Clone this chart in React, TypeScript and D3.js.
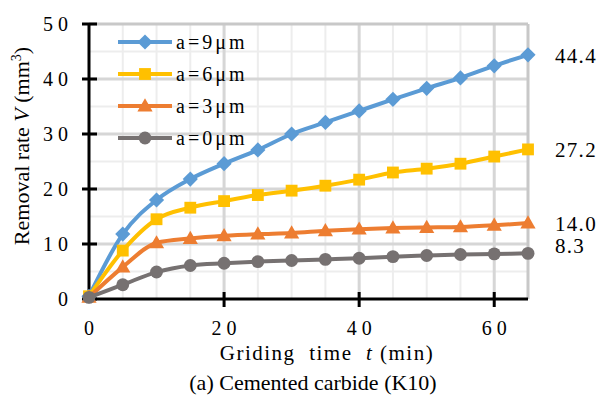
import React from "react";
import * as d3 from "d3";

const times = [0, 5, 10, 15, 20, 25, 30, 35, 40, 45, 50, 55, 60, 65];
const a9 = [0.5, 11.8, 18.0, 21.8, 24.6, 27.1, 30.0, 32.1, 34.2, 36.3, 38.3, 40.2, 42.4, 44.4];
const a6 = [0.5, 8.8, 14.5, 16.6, 17.8, 18.9, 19.7, 20.6, 21.7, 23.0, 23.7, 24.6, 25.9, 27.2];
const a3 = [0.3, 5.8, 10.2, 11.0, 11.5, 11.8, 12.0, 12.4, 12.7, 12.9, 13.0, 13.1, 13.4, 13.8];
const a0 = [0.3, 2.6, 4.9, 6.1, 6.5, 6.8, 7.0, 7.2, 7.4, 7.7, 7.9, 8.1, 8.2, 8.3];
const seriesNames = ["a=9μm", "a=6μm", "a=3μm", "a=0μm"];
const endLabels = ["44.4", "27.2", "14.0", "8.3"];
const xTicks = [0, 20, 40, 60];
const yTicks = [0, 10, 20, 30, 40, 50];

const colors = ["#5B9BD5", "#FFC000", "#ED7D31", "#767171"];
const shapes = ["diamond", "square", "triangle", "circle"];
const labelDy = [8.5, 7.5, 8.0, 0.0];

const serif = "Liberation Serif, DejaVu Serif, serif";
const tx = { fontFamily: serif };

function Marker({ shape, x, y, color }: { shape: string; x: number; y: number; color: string }) {
  if (shape === "diamond") {
    const p = d3.symbol().type(d3.symbolSquare).size(115)();
    return <path d={p || ""} transform={`translate(${x},${y}) rotate(45)`} fill={color} />;
  }
  if (shape === "square") {
    const p = d3.symbol().type(d3.symbolSquare).size(140)();
    return <path d={p || ""} transform={`translate(${x},${y})`} fill={color} />;
  }
  if (shape === "triangle") {
    const p = d3.symbol().type(d3.symbolTriangle).size(100)();
    return <path d={p || ""} transform={`translate(${x},${y + 1})`} fill={color} />;
  }
  const p = d3.symbol().type(d3.symbolCircle).size(130)();
  return <path d={p || ""} transform={`translate(${x},${y})`} fill={color} />;
}

export default function App() {
  const W = 601;
  const H = 399;
  const x = d3.scaleLinear().domain([0, 65]).range([89, 528]);
  const y = d3.scaleLinear().domain([0, 50]).range([299, 24]);
  const data = [a9, a6, a3, a0];
  const line = d3
    .line<number>()
    .x((_, i) => x(times[i]))
    .y((d) => y(d))
    .curve(d3.curveMonotoneX);

  const minorX = d3.range(5, 65, 5).filter((v) => v % 20 !== 0);
  const majorX = [20, 40, 60];
  const minorY = d3.range(5, 50, 10);
  const majorY = [10, 20, 30, 40];

  return (
    <svg width={W} height={H} style={{ position: "absolute", left: 0, top: 0, background: "#fff" }}>
      <rect x={0} y={0} width={W} height={H} fill="#fff" />
      {minorX.map((v) => (
        <line key={"mx" + v} x1={x(v)} x2={x(v)} y1={y(0)} y2={y(50)} stroke="#EDEDED" strokeWidth={2} />
      ))}
      {minorY.map((v) => (
        <line key={"my" + v} x1={x(0)} x2={x(65)} y1={y(v)} y2={y(v)} stroke="#EDEDED" strokeWidth={2} />
      ))}
      {majorX.map((v) => (
        <line key={"Mx" + v} x1={x(v)} x2={x(v)} y1={y(0)} y2={y(50)} stroke="#D6D6D6" strokeWidth={3} />
      ))}
      {majorY.map((v) => (
        <line key={"My" + v} x1={x(0)} x2={x(65)} y1={y(v)} y2={y(v)} stroke="#D6D6D6" strokeWidth={3} />
      ))}
      <line x1={x(0)} x2={x(65)} y1={y(50)} y2={y(50)} stroke="#C8C8C8" strokeWidth={3} />
      <line x1={x(65)} x2={x(65)} y1={y(0)} y2={y(50)} stroke="#C8C8C8" strokeWidth={3} />

      <line x1={x(0)} x2={x(0)} y1={y(0) + 1.5} y2={y(50)} stroke="#000" strokeWidth={3} />
      <line x1={x(0) - 1.5} x2={x(65)} y1={y(0)} y2={y(0)} stroke="#000" strokeWidth={3} />
      {yTicks.map((v) => (
        <g key={"yt" + v}>
          <line x1={x(0) - 7} x2={x(0) + 8} y1={y(v)} y2={y(v)} stroke="#000" strokeWidth={3} />
          <text x={73} y={y(v) + 7} textAnchor="end" style={tx} fontSize={20} letterSpacing={5} fill="#000">
            {v}
          </text>
        </g>
      ))}
      {xTicks.map((v) => (
        <g key={"xt" + v}>
          {v !== 0 && <line x1={x(v)} x2={x(v)} y1={y(0) - 7} y2={y(0) + 8} stroke="#000" strokeWidth={3} />}
          <text x={x(v) + 2.5} y={335} textAnchor="middle" style={tx} fontSize={20} letterSpacing={5} fill="#000">
            {v}
          </text>
        </g>
      ))}

      {data.map((s, si) => (
        <g key={"s" + si}>
          <path d={line(s) || ""} fill="none" stroke={colors[si]} strokeWidth={4} strokeLinejoin="round" />
          {s.map((v, i) => (
            <Marker key={i} shape={shapes[si]} x={x(times[i])} y={y(v)} color={colors[si]} />
          ))}
        </g>
      ))}

      {endLabels.map((t, si) => (
        <text
          key={"el" + si}
          x={555}
          y={y(data[si][data[si].length - 1]) + labelDy[si]}
          style={tx}
          fontSize={21}
          letterSpacing={1.3}
          fill="#000"
        >
          {t}
        </text>
      ))}

      {seriesNames.map((n, si) => {
        const ly = 42 + si * 32;
        return (
          <g key={"lg" + si}>
            <line x1={118} x2={172} y1={ly} y2={ly} stroke={colors[si]} strokeWidth={4} />
            <Marker shape={shapes[si]} x={145} y={ly} color={colors[si]} />
            <text x={176} y={ly + 7} style={tx} fontSize={20} letterSpacing={3} fill="#000">
              {n}
            </text>
          </g>
        );
      })}

      <text transform={`translate(29,146) rotate(-90)`} textAnchor="middle" style={tx} fontSize={22} fill="#000">
        Removal rate <tspan fontStyle="italic">V</tspan> (mm<tspan fontSize={14} dy={-8}>3</tspan>
        <tspan dy={8}>)</tspan>
      </text>
      <text x={327} y={360} textAnchor="middle" style={tx} fontSize={21} letterSpacing={1.5} fill="#000">
        Griding{"\u00a0"} time{"\u00a0"} <tspan fontStyle="italic">t</tspan> (min)
      </text>
      <text x={313} y={390} textAnchor="middle" style={tx} fontSize={22} fill="#000">
        (a) Cemented carbide (K10)
      </text>
    </svg>
  );
}
